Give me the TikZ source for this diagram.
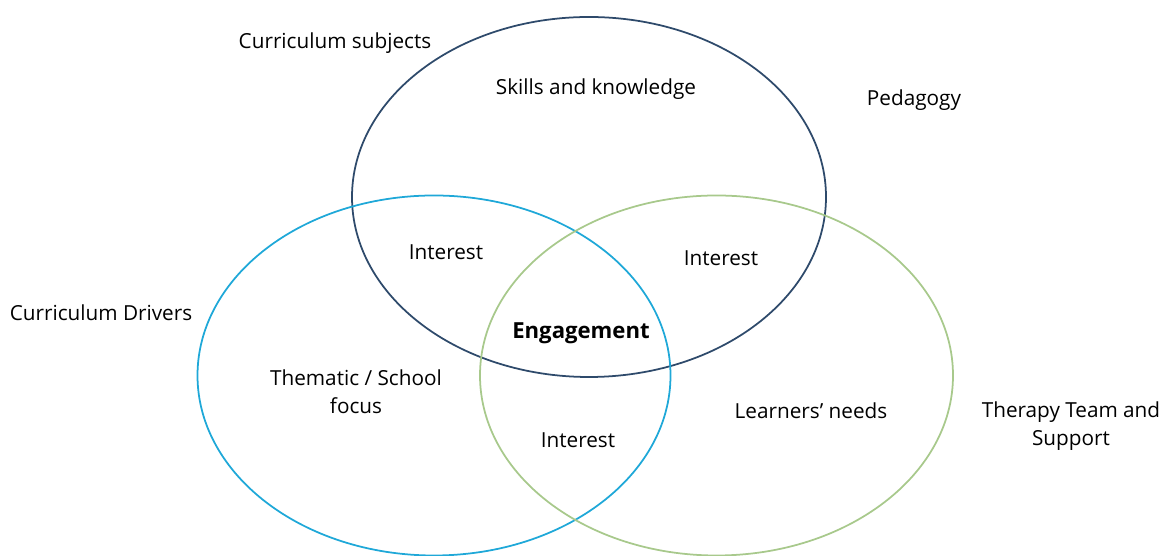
\documentclass[tikz,border=0pt]{standalone}
\usepackage{fontspec}
\setmainfont{Open Sans}
\usepackage{tikz}
\usetikzlibrary{positioning}

\definecolor{subjblue}{HTML}{2E4A6B}
\definecolor{drivcyan}{HTML}{1FA8D8}
\definecolor{needgreen}{HTML}{A8C98C}

\begin{document}
\begin{tikzpicture}[semithick, lbl/.style={font=\fontsize{11.8}{16}\selectfont, align=center, inner sep=1pt}]
    	\useasboundingbox (0,0) rectangle (23.24,11.12);
    	\draw[subjblue, line width=1pt] (11.78,7.18) ellipse (4.74 and 3.6);
    	\draw[drivcyan, line width=1pt] (8.68,3.61) ellipse (4.73 and 3.6);
    	\draw[needgreen, line width=1pt] (14.33,3.61) ellipse (4.73 and 3.6);
    	\node[lbl] (subj) at (6.70,10.26) {Curriculum subjects};
    	\node[lbl] (skill) at (11.92,9.34) {Skills and knowledge};
    	\node[lbl] (ped) at (18.28,9.12) {Pedagogy};
    	\node[lbl] (intl) at (8.92,6.08) {Interest};
    	\node[lbl] (intr) at (14.42,5.96) {Interest};
    	\node[lbl] (driv) at (2.02,4.86) {Curriculum Drivers};
    	\node[lbl, font=\fontsize{12.6}{16}\selectfont\bfseries] (eng) at (11.62,4.46) {Engagement};
    	\node[lbl] (theme) at (7.12,3.28) {Thematic / School\\focus};
    	\node[lbl] (need) at (16.22,2.90) {Learners' needs};
    	\node[lbl] (intb) at (11.56,2.32) {Interest};
    	\node[lbl] (ther) at (21.42,2.60) {Therapy Team and\\Support};
    \end{tikzpicture}
\end{document}
